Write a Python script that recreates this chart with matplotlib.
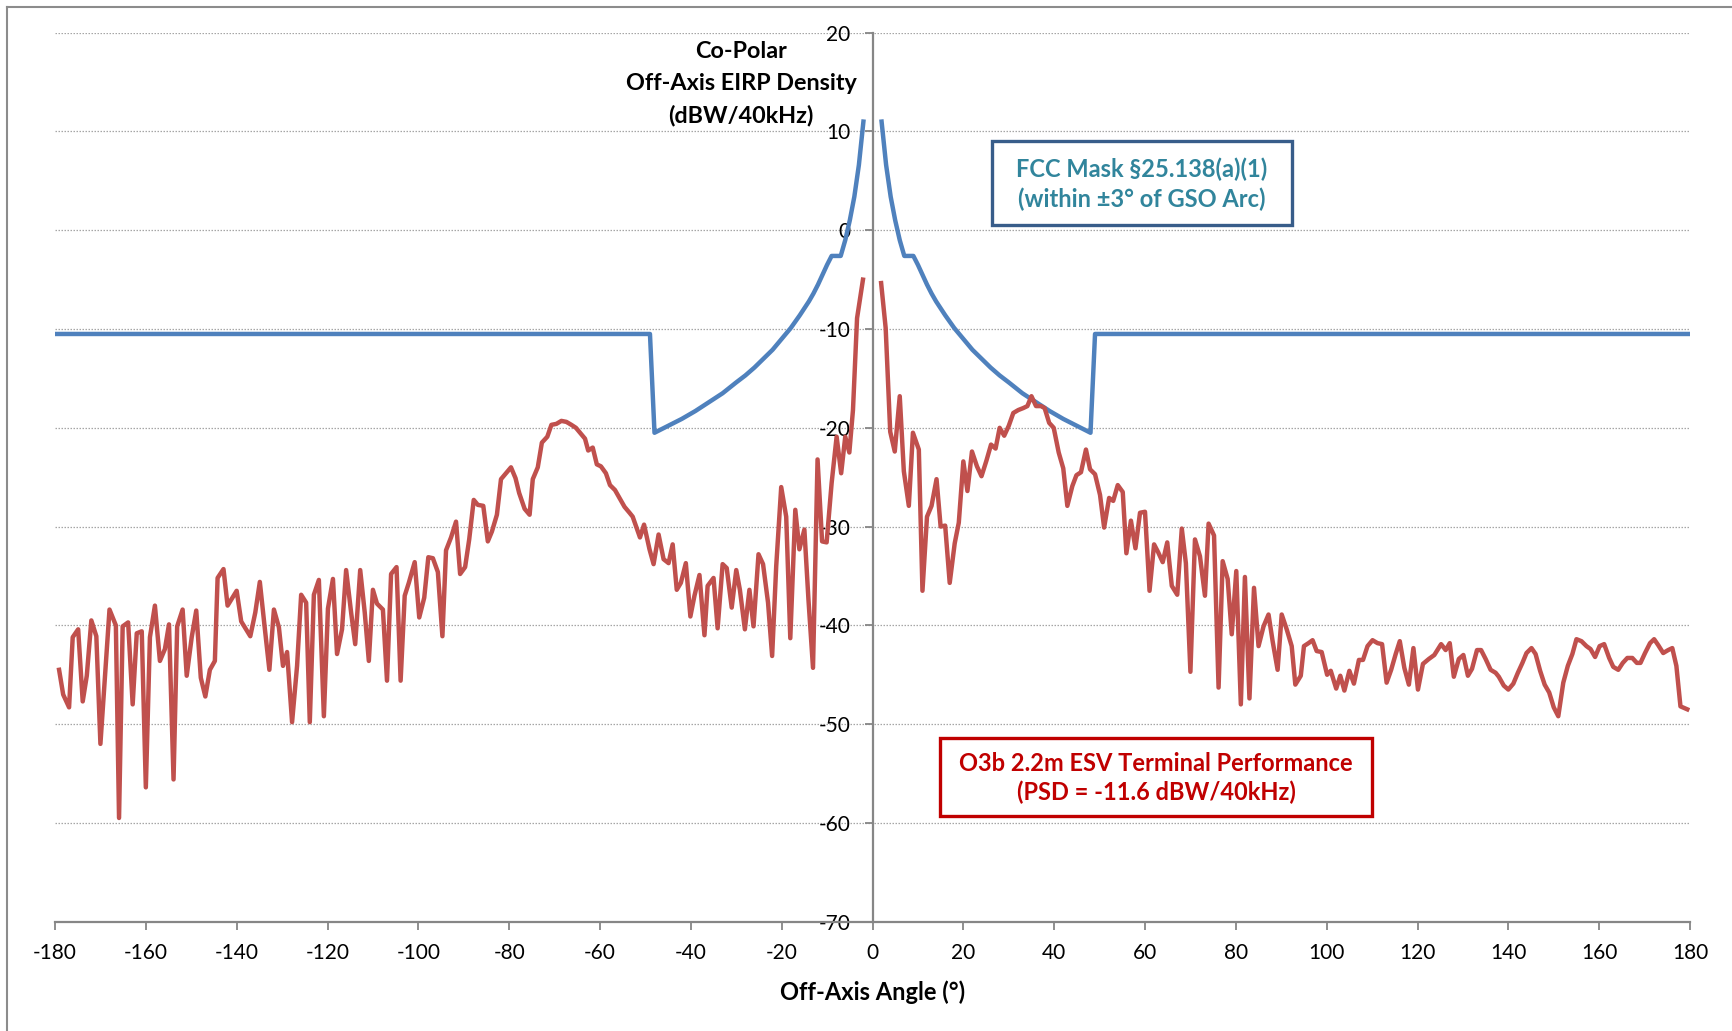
import numpy as np
import matplotlib
matplotlib.use("Agg")
import matplotlib.pyplot as plt
from matplotlib.lines import Line2D
from matplotlib.patches import Rectangle

plt.rcParams['font.family'] = ['Lato', 'DejaVu Sans']
plt.rcParams['axes.unicode_minus'] = False

# FCC mask (one side, mirrored for negative angles)
mask_angle = [2, 3, 4, 5, 6, 7, 8, 9, 10, 11, 12, 13, 14, 15, 16, 18, 20, 22, 24, 26,
              28, 30, 33, 36, 39, 42, 45, 48, 49, 180]
mask_val = [11.0, 6.6, 3.4, 1.0, -1.0, -2.6, -2.6, -2.6, -3.5, -4.5, -5.5, -6.4, -7.2,
            -7.9, -8.6, -9.9, -11.0, -12.1, -13.0, -13.9, -14.7, -15.4, -16.5, -17.4,
            -18.3, -19.1, -19.8, -20.5, -10.5, -10.5]

# measured terminal, negative side
left_angle = [-179.1, -178.2, -176.9, -176.1, -174.9, -173.9, -173, -172, -170.9, -170,
              -168, -166.6, -165.9, -165.1, -163.9, -162.9, -162, -160.9, -160, -159.1,
              -158, -156.9, -155.8, -154.9, -153.9, -153.1, -151.9, -151, -149.9, -148.9,
              -147.9, -146.9, -145.9, -144.8, -144.2, -142.9, -142, -140, -139, -137,
              -135.9, -134.9, -133.9, -132.8, -131.8, -130.7, -129.8, -128.9, -127.8, -126.7,
              -125.8, -124.7, -123.9, -123, -121.9, -120.8, -119.9, -118.8, -117.9, -116.8,
              -115.9, -114.8, -113.9, -112.8, -111.8, -110.9, -110, -109.1, -107.8, -106.9,
              -106, -104.8, -103.9, -103, -102.1, -100.8, -99.8, -98.7, -97.8, -96.8,
              -95.7, -94.7, -93.9, -92.8, -91.7, -90.8, -89.7, -88.8, -87.8, -86.9,
              -85.7, -84.7, -83.8, -82.7, -81.8, -80.7, -79.6, -78.6, -77.8, -76.6,
              -75.5, -74.8, -73.7, -72.8, -71.6, -70.7, -69.6, -68.5, -67.4, -66.3,
              -65.3, -64.4, -63.3, -62.6, -61.6, -60.7, -59.8, -58.7, -57.8, -56.7,
              -55.6, -54.6, -53.5, -52.8, -51.2, -50.3, -49.1, -48.2, -47.1, -46,
              -44.9, -44, -43.1, -42.2, -41.1, -40.1, -39.2, -38.1, -37, -36.3,
              -35, -34.1, -33, -32.1, -31, -30, -29.2, -28.1, -27.1, -26.2,
              -25.1, -24.1, -23, -22.1, -21.2, -20.1, -19, -18.1, -17, -16.1,
              -15, -14.1, -13.1, -12.1, -11.1, -10.1, -9, -7.9, -6.9, -6,
              -5.1, -4.3, -3.4, -2.1]
left_val = [-44.5, -47, -48.3, -41.2, -40.4, -47.7, -45.1, -39.5, -41.1, -52,
            -38.4, -40, -59.5, -40.1, -39.7, -48, -40.8, -40.6, -56.4, -41.2,
            -38, -43.6, -42.4, -39.9, -55.6, -40.1, -38.4, -45.1, -41.2, -38.5,
            -45.3, -47.2, -44.5, -43.6, -35.2, -34.3, -38, -36.5, -39.6, -41.1,
            -38.7, -35.6, -39.9, -44.5, -38.4, -40.2, -44.1, -42.7, -49.8, -44.1,
            -36.9, -37.7, -49.8, -36.9, -35.4, -49.2, -38.3, -35.3, -42.9, -40.4,
            -34.4, -38.7, -41.9, -34.4, -38.7, -43.6, -36.4, -37.8, -38.4, -45.6,
            -34.8, -34.1, -45.6, -37, -35.7, -33.6, -39.2, -37.2, -33.1, -33.2,
            -34.6, -41.1, -32.4, -31.1, -29.5, -34.8, -34.1, -31.3, -27.3, -27.8,
            -27.9, -31.5, -30.5, -28.8, -25.2, -24.6, -24, -25.1, -26.6, -28.2,
            -28.8, -25.2, -24, -21.5, -20.9, -19.7, -19.6, -19.3, -19.4, -19.7,
            -20, -20.5, -21.1, -22.3, -22, -23.7, -23.9, -24.6, -25.8, -26.3,
            -27.2, -28, -28.6, -29.0, -31.1, -29.8, -32.3, -33.8, -30.8, -33.3,
            -33.7, -31.8, -36.4, -35.7, -33.7, -39.1, -37, -34.9, -41, -36,
            -35.2, -40.3, -33.8, -34.2, -38.2, -34.4, -36.4, -40.4, -36.4, -40.1,
            -32.8, -33.8, -37.7, -43.1, -34, -26, -29, -41.3, -28.3, -32.3,
            -30.3, -37.4, -44.3, -23.2, -31.5, -31.6, -25.6, -20.9, -24.6, -20.9,
            -22.5, -18.2, -8.9, -5]

# measured terminal, positive side
right_angle = [1.9, 2.9, 3.9, 4.9, 6, 6.9, 8, 8.9, 10.2, 11,
               12, 13, 14.1, 15, 16, 17, 18.1, 19, 20, 20.9,
               21.9, 23, 24, 25.1, 26.1, 27.1, 28, 29, 30, 31,
               32.1, 33.2, 34.1, 35, 36, 37.1, 37.9, 38.9, 39.9, 41,
               42, 42.9, 44, 44.9, 45.9, 47, 47.9, 49, 50.1, 51,
               52.1, 53, 54, 55.1, 55.9, 56.9, 57.9, 58.9, 60, 61,
               62, 62.9, 63.9, 64.9, 65.9, 67.1, 68.1, 69, 70, 71,
               72.1, 73.2, 74, 75.2, 76.2, 77.1, 78.2, 79.1, 80.1, 81.1,
               82, 83, 84, 85, 86.1, 87.2, 88.1, 89.2, 90.1, 91.2,
               92.3, 93.1, 94.3, 95, 96, 96.9, 97.8, 98.9, 100.1, 100.9,
               102.1, 103, 103.9, 105, 106, 107.1, 108, 109, 110.1, 111.2,
               112.2, 113.2, 114.2, 115.2, 116.1, 117.1, 118.1, 119.1, 120.1, 121.2,
               122.5, 123.7, 125.2, 126.2, 127.1, 128, 129.1, 130.1, 131.1, 132,
               133.1, 134, 135, 136.1, 137.2, 137.9, 139, 140, 141.1, 142.1,
               143.1, 144, 145.1, 146, 147, 148, 149, 150, 151, 152.1,
               153.1, 154.1, 155, 156.1, 157.2, 158.1, 159.1, 160.1, 161.1, 162.2,
               163.1, 164.2, 165.2, 166.2, 167.3, 168.3, 169.1, 170.1, 171.2, 172.1,
               173, 174.1, 175.2, 176.1, 177, 177.9, 179.4]
right_val = [-5.35, -9.9, -20.4, -22.4, -16.8, -24.4, -27.9, -20.5, -22.2, -36.5,
             -29, -27.9, -25.2, -30, -29.9, -35.7, -31.7, -29.6, -23.4, -26.4,
             -22.4, -23.9, -24.9, -23.3, -21.7, -22.1, -20, -20.8, -19.8, -18.5,
             -18.2, -18, -17.8, -16.8, -17.8, -17.8, -18, -19.5, -20, -22.5,
             -24.1, -27.9, -25.9, -24.8, -24.5, -22.2, -24.2, -24.7, -26.8, -30.1,
             -27.1, -27.4, -25.8, -26.5, -32.7, -29.4, -32.2, -28.6, -28.5, -36.5,
             -31.8, -32.6, -33.6, -31.6, -36, -36.9, -30.2, -33.7, -44.7, -31.3,
             -33, -37, -29.7, -30.9, -46.3, -33.5, -35.3, -40.9, -34.5, -48,
             -35.1, -47.4, -36.2, -42.1, -40.1, -38.9, -41.6, -44.5, -38.9, -40.4,
             -42.1, -46, -45.1, -42.1, -41.8, -41.5, -42.6, -42.7, -45, -44.6,
             -46.4, -45.1, -46.6, -44.6, -45.9, -43.5, -43.5, -42.1, -41.5, -41.8,
             -41.9, -45.8, -44.5, -42.9, -41.6, -44.3, -46, -42.3, -46.5, -43.9,
             -43.4, -43, -41.9, -42.5, -41.8, -45.2, -43.4, -43, -45.1, -44.4,
             -42.5, -42.5, -43.4, -44.5, -44.8, -45.2, -46.1, -46.5, -45.9, -44.8,
             -43.8, -42.8, -42.3, -42.9, -44.6, -46, -46.8, -48.3, -49.2, -45.8,
             -44.1, -42.9, -41.4, -41.6, -42.1, -42.4, -43.2, -42.1, -41.9, -43.3,
             -44.2, -44.5, -43.8, -43.3, -43.3, -43.8, -43.8, -42.8, -41.8, -41.4,
             -42, -42.8, -42.5, -42.3, -44.1, -48.2, -48.5]

ylabel_lines = ['Co-Polar', 'Off-Axis EIRP Density', '(dBW/40kHz)']

blue = '#4F81BD'
red = '#C0504D'
axis_gray = '#868686'

fig = plt.figure(figsize=(17.32, 10.31), dpi=100)
ax = fig.add_axes([55 / 1732, 1 - 921.7 / 1031, 1635 / 1732, 889 / 1031])

# mask: two branches with a gap around boresight
ax.plot(mask_angle, mask_val, color=blue, lw=3.2, solid_joinstyle='round', zorder=3)
ax.plot([-a for a in mask_angle], mask_val, color=blue, lw=3.2, solid_joinstyle='round', zorder=3)

ax.plot(left_angle, left_val, color=red, lw=3.2, solid_joinstyle='round', zorder=4)
ax.plot(right_angle, right_val, color=red, lw=3.2, solid_joinstyle='round', zorder=4)

ax.set_xlim(-180, 180)
ax.set_ylim(-70, 20)
ax.set_xticks(np.arange(-180, 181, 20))
ax.set_yticks(np.arange(-70, 21, 10))

for yv in range(-60, 21, 10):
    ax.axhline(yv, color='#A6A6A6', lw=0.9, ls=(0, (1.2, 1.2)), zorder=1)

ax.spines['left'].set_position(('data', 0))
for s in ['top', 'right']:
    ax.spines[s].set_visible(False)
for s in ['left', 'bottom']:
    ax.spines[s].set_color(axis_gray)
    ax.spines[s].set_linewidth(1.6)
    ax.spines[s].set_zorder(2)
ax.tick_params(axis='both', colors=axis_gray, width=1.3, length=6, direction='out',
               labelsize=15, labelcolor='black')
ax.tick_params(axis='x', pad=9)
ax.tick_params(axis='y', pad=10)
ax.set_facecolor('none')

ax.set_xlabel('Off-Axis Angle (°)', fontsize=17, fontweight='bold', labelpad=13)

# y-axis title, one line per text so it stays clear of the tick labels
for line, ypix in zip(ylabel_lines, [51, 84, 115]):
    fig.text(741 / 1732, 1 - ypix / 1031, line, ha='center', va='center',
             fontsize=16.8, fontweight='bold')

# annotation boxes (axes fractions)
ax.add_patch(Rectangle((0.5731, 0.7837), 0.1835, 0.0945, transform=ax.transAxes,
                       fc='white', ec='#385D8A', lw=2.4, zorder=6))
ax.text(0.6648, 0.8295, 'FCC Mask §25.138(a)(1)\n(within ±3° of GSO Arc)',
        transform=ax.transAxes, ha='center', va='center', fontsize=17, fontweight='bold',
        color='#31859C', linespacing=1.3, zorder=7)

ax.add_patch(Rectangle((0.5413, 0.1189), 0.2642, 0.0877, transform=ax.transAxes,
                       fc='white', ec='#C00000', lw=2.4, zorder=6))
ax.text(0.6734, 0.1618, 'O3b 2.2m ESV Terminal Performance\n(PSD = -11.6 dBW/40kHz)',
        transform=ax.transAxes, ha='center', va='center', fontsize=17, fontweight='bold',
        color='#C00000', linespacing=1.3, zorder=7)

# chart frame (top and left edges)
fig.add_artist(Line2D([7.5 / 1732, 1], [1 - 7 / 1031, 1 - 7 / 1031], color='#8C8C8C', lw=1.5,
                      transform=fig.transFigure))
fig.add_artist(Line2D([7.5 / 1732, 7.5 / 1732], [0, 1 - 7 / 1031], color='#8C8C8C', lw=1.5,
                      transform=fig.transFigure))

fig.savefig('out.png', dpi=100)
